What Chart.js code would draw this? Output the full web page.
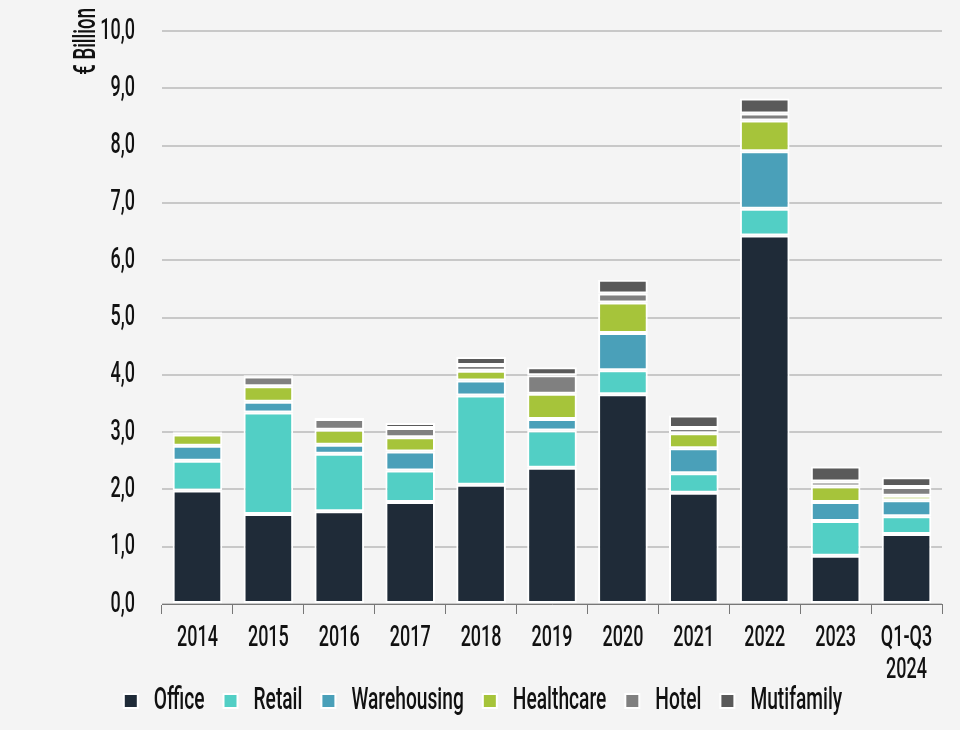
<!DOCTYPE html>
<html>
<head>
<meta charset="utf-8">
<script src="https://cdn.jsdelivr.net/npm/chart.js@4.4.1/dist/chart.umd.min.js"></script>
<style>
  html, body { margin: 0; padding: 0; background: #f4f4f4; }
  #wrap { width: 960px; height: 730px; }
</style>
</head>
<body>
<div id="wrap"><canvas id="chart" width="960" height="730"></canvas></div>
<script>
// --- DATA ---
const years = ['2014', '2015', '2016', '2017', '2018', '2019', '2020', '2021', '2022', '2023', ['Q1-Q3', '2024']];
const office      = [1.98, 1.57, 1.62, 1.78, 2.08, 2.38, 3.66, 1.94, 6.43, 0.84, 1.22];
const retail      = [0.52, 1.77, 1.00, 0.55, 1.56, 0.65, 0.42, 0.34, 0.47, 0.61, 0.31];
const warehousing = [0.26, 0.19, 0.16, 0.33, 0.26, 0.20, 0.65, 0.44, 1.00, 0.33, 0.28];
const healthcare  = [0.20, 0.27, 0.26, 0.25, 0.17, 0.44, 0.53, 0.26, 0.54, 0.27, 0.08];
const hotel       = [0.03, 0.17, 0.19, 0.16, 0.10, 0.32, 0.16, 0.09, 0.12, 0.09, 0.15];
const multifamily = [0.02, 0.02, 0.02, 0.09, 0.14, 0.14, 0.24, 0.22, 0.26, 0.26, 0.17];

const FONT = "Roboto, 'DejaVu Sans', sans-serif";
const SQUEEZE = 0.6; // the source uses a very narrow typeface, so squeeze text horizontally

const series = [
    { label: 'Office', data: office, color: '#1f2b38' },
    { label: 'Retail', data: retail, color: '#52cfc5' },
    { label: 'Warehousing', data: warehousing, color: '#4aa0b9' },
    { label: 'Healthcare', data: healthcare, color: '#a6c43a' },
    { label: 'Hotel', data: hotel, color: '#808080' },
    { label: 'Mutifamily', data: multifamily, color: '#5a5a5a' }
];

const canvas = document.getElementById('chart');
const ctx = canvas.getContext('2d');

// --- NARROW TEXT ---
const baseFill = ctx.fillText;
const baseMeasure = ctx.measureText;
ctx.fillText = function (text, x, y) {
    this.save();
    this.translate(x, y);
    this.scale(SQUEEZE, 1);
    baseFill.call(this, text, 0, 0);
    this.restore();
};
ctx.measureText = function (text) {
    const m = baseMeasure.call(this, text);
    return {
        width: m.width * SQUEEZE,
        actualBoundingBoxAscent: m.actualBoundingBoxAscent,
        actualBoundingBoxDescent: m.actualBoundingBoxDescent
    };
};

// y axis title sits at the top, next to the 10,0 label
const axisTitle = {
    id: 'axisTitle',
    afterDraw(chart) {
        const c = chart.ctx;
        c.save();
        c.translate(87, 8);
        c.rotate(-Math.PI / 2);
        c.font = `500 31px ${FONT}`;
        c.fillStyle = '#111';
        c.textAlign = 'right';
        c.textBaseline = 'middle';
        c.fillText('€ Billion', 0, 0);
        c.restore();
    }
};

new Chart(ctx, {
    type: 'bar',
    data: {
        labels: years,
        datasets: series.map(s => ({
            label: s.label,
            data: s.data,
            backgroundColor: s.color,
            borderColor: '#ffffff',
            borderWidth: 2,
            borderSkipped: false,
            barPercentage: 0.7,
            categoryPercentage: 1.0
        }))
    },
    plugins: [axisTitle],
    options: {
        responsive: false,
        animation: false,
        layout: { padding: { top: 31, right: 18, left: 24, bottom: 3 } },
        plugins: {
            tooltip: { enabled: false },
            legend: {
                position: 'bottom',
                labels: {
                    color: '#111',
                    font: { family: FONT, size: 32, weight: '500' },
                    boxWidth: 14,
                    boxHeight: 14,
                    padding: 19
                }
            }
        },
        scales: {
            x: {
                stacked: true,
                afterFit: axis => {
                    // let the two-line last label reach down beside the legend
                    axis.height = 62;
                    axis._computeLabelArea = () => undefined;
                },
                border: { display: true, color: '#777', width: 1 },
                grid: { drawOnChartArea: false, drawTicks: true, tickLength: 10, color: '#777', offset: true },
                ticks: { color: '#111', font: { family: FONT, size: 30, weight: '500', lineHeight: 1.07 }, padding: 8, maxRotation: 0 }
            },
            y: {
                stacked: true,
                min: 0,
                max: 10,
                afterFit: axis => { axis.width = 138; },
                border: { display: false },
                grid: { color: '#c8c8c8', lineWidth: 2, drawTicks: true, tickLength: 24, tickColor: 'transparent' },
                ticks: {
                    stepSize: 1,
                    padding: 3,
                    color: '#111',
                    font: { family: FONT, size: 30, weight: '500', lineHeight: 1.0 },
                    callback: v => v.toFixed(1).replace('.', ',')
                }
            }
        }
    }
});
</script>
</body>
</html>
